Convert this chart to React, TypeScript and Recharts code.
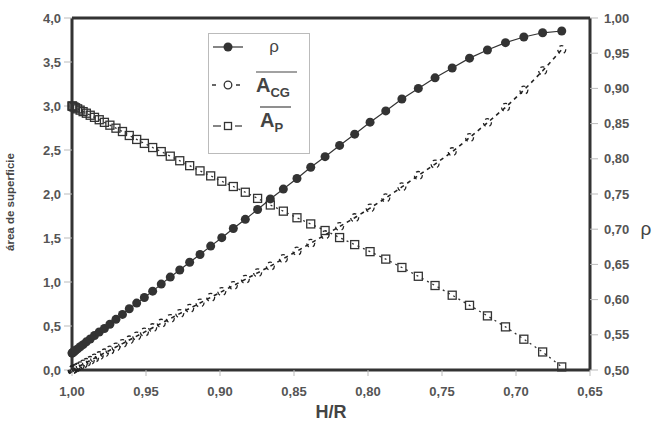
import React from 'react';
import {
  ComposedChart,
  Line,
  XAxis,
  YAxis,
  ReferenceLine,
} from 'recharts';

const hrValues = [
  1.0, 0.9998, 0.9994, 0.9986, 0.9976, 0.9962, 0.9945, 0.9925, 0.9903, 0.9877,
  0.9848, 0.9816, 0.9781, 0.9744, 0.9703, 0.9659, 0.9613, 0.9563, 0.9511, 0.9455,
  0.9397, 0.9336, 0.9272, 0.9205, 0.9135, 0.9063, 0.8988, 0.891, 0.8829, 0.8746,
  0.866, 0.8572, 0.848, 0.8387, 0.829, 0.8192, 0.809, 0.7986, 0.788, 0.7771,
  0.766, 0.7547, 0.7431, 0.7314, 0.7193, 0.7071, 0.6947, 0.682, 0.6691,
];

// ρ (right axis)
const rhoValues = [
  0.524, 0.524, 0.525, 0.526, 0.528, 0.53, 0.533, 0.536, 0.54, 0.544,
  0.549, 0.554, 0.559, 0.565, 0.572, 0.579, 0.587, 0.595, 0.603, 0.612,
  0.622, 0.632, 0.642, 0.653, 0.664, 0.676, 0.688, 0.701, 0.714, 0.728,
  0.743, 0.757, 0.772, 0.788, 0.803, 0.819, 0.835, 0.852, 0.868, 0.885,
  0.9, 0.915, 0.929, 0.943, 0.9545, 0.965, 0.973, 0.979, 0.9815,
];

// A_CG (left axis)
const acgValues = [
  0, 0.001, 0.005, 0.012, 0.021, 0.033, 0.048, 0.066, 0.085, 0.108,
  0.134, 0.162, 0.193, 0.225, 0.261, 0.3, 0.341, 0.385, 0.43, 0.48,
  0.531, 0.584, 0.641, 0.7, 0.761, 0.825, 0.891, 0.959, 1.03, 1.104,
  1.18, 1.265, 1.35, 1.44, 1.535, 1.63, 1.73, 1.84, 1.955, 2.08,
  2.21, 2.34, 2.48, 2.64, 2.81, 2.985, 3.18, 3.4, 3.64,
];

// A_P (left axis)
const apValues = [
  3.0, 2.999, 2.995, 2.988, 2.98, 2.968, 2.953, 2.936, 2.918, 2.895,
  2.871, 2.844, 2.814, 2.782, 2.748, 2.71, 2.665, 2.62, 2.575, 2.528,
  2.482, 2.43, 2.378, 2.322, 2.263, 2.206, 2.145, 2.085, 2.02, 1.95,
  1.875, 1.805, 1.73, 1.66, 1.585, 1.505, 1.425, 1.345, 1.26, 1.165,
  1.065, 0.96, 0.85, 0.735, 0.615, 0.49, 0.35, 0.205, 0.035,
];

const xTicks = [1.0, 0.95, 0.9, 0.85, 0.8, 0.75, 0.7, 0.65];
const leftTicks = [0, 0.5, 1, 1.5, 2, 2.5, 3, 3.5, 4];
const rightTicks = [0.5, 0.55, 0.6, 0.65, 0.7, 0.75, 0.8, 0.85, 0.9, 0.95, 1.0];

const data = hrValues.map((hr, i) => ({
  hr,
  rho: rhoValues[i],
  acg: acgValues[i],
  ap: apValues[i],
}));

const FONT = '"Liberation Sans", Arial, sans-serif';
const DARK = '#333';
const TICK_TXT = { fontSize: 13, fontWeight: 700, fill: '#555', fontFamily: FONT };

const comma = (d: number) => (v: number) => v.toFixed(d).replace('.', ',');

const SquareDot = (props: any) => {
  const { cx, cy } = props;
  if (cx == null || cy == null) return null;
  return <rect x={cx - 4} y={cy - 4} width={8} height={8} fill="none" stroke="#333" strokeWidth={1.3} />;
};

// legend drawn as an overlay so it doesn't take room from the plot
const LegendBox = () => (
  <svg width={102} height={121} style={{ display: 'block' }}>
    <rect x={0.5} y={0.5} width={101} height={120} fill="#fff" stroke="#bbb" strokeWidth={1} />
    {/* ρ */}
    <line x1={5} x2={35} y1={14} y2={14} stroke={DARK} strokeWidth={1.2} />
    <circle cx={20} cy={14} r={4.5} fill={DARK} />
    <text x={66} y={19} fontSize={17} fill="#444" fontFamily={FONT} textAnchor="middle">ρ</text>
    {/* A_CG */}
    <line x1={4} x2={8} y1={52} y2={52} stroke={DARK} strokeWidth={1.5} />
    <line x1={28} x2={32} y1={52} y2={52} stroke={DARK} strokeWidth={1.5} />
    <circle cx={20} cy={52} r={3.8} fill="none" stroke="#333" strokeWidth={1.3} />
    <line x1={48} x2={89} y1={39} y2={39} stroke="#444" strokeWidth={1.2} />
    <text x={48} y={59} fill="#444" fontFamily={FONT} fontWeight={700}>
      <tspan fontSize={20}>A</tspan>
      <tspan fontSize={13} dy={5}>CG</tspan>
    </text>
    {/* A_P */}
    <line x1={5} x2={13} y1={93} y2={93} stroke={DARK} strokeWidth={1.2} />
    <line x1={27} x2={34} y1={93} y2={93} stroke={DARK} strokeWidth={1.2} />
    <rect x={16.5} y={89.5} width={7} height={7} fill="none" stroke="#333" strokeWidth={1.3} />
    <line x1={52} x2={83} y1={74} y2={74} stroke="#444" strokeWidth={1.2} />
    <text x={52} y={94} fill="#444" fontFamily={FONT} fontWeight={700}>
      <tspan fontSize={20}>A</tspan>
      <tspan fontSize={13} dy={5}>P</tspan>
    </text>
  </svg>
);

export default function App() {
  return (
    <div style={{ position: 'absolute', left: 0, top: 0, width: 656, height: 426, background: '#fff' }}>
      <ComposedChart
        width={656}
        height={426}
        data={data}
        margin={{ top: 18, right: 0, bottom: 6, left: 0 }}
      >
        <XAxis
          dataKey="hr"
          type="number"
          domain={[0.65, 1]}
          reversed
          ticks={xTicks}
          tickFormatter={comma(2)}
          interval={0}
          height={50}
          axisLine={{ stroke: DARK, strokeWidth: 3 }}
          tickLine={{ stroke: '#bbb' }}
          tickSize={6}
          tickMargin={11}
          tick={TICK_TXT}
          label={{
            value: 'H/R',
            position: 'insideBottom',
            offset: 2,
            style: { fontSize: 18, fontWeight: 700, fill: '#444', fontFamily: FONT },
          }}
        />
        <YAxis
          yAxisId="left"
          domain={[0, 4]}
          ticks={leftTicks}
          tickFormatter={comma(1)}
          interval={0}
          width={72}
          axisLine={{ stroke: DARK, strokeWidth: 3 }}
          tickLine={{ stroke: '#bbb' }}
          tickSize={8}
          tickMargin={3}
          tick={TICK_TXT}
          label={{
            value: 'área de superficie',
            angle: -90,
            position: 'insideLeft',
            offset: 10,
            dy: 8,
            style: { fontSize: 11.5, fontWeight: 700, fill: '#444', fontFamily: FONT, textAnchor: 'middle' },
          }}
        />
        <YAxis
          yAxisId="right"
          orientation="right"
          domain={[0.5, 1]}
          ticks={rightTicks}
          tickFormatter={comma(2)}
          interval={0}
          width={66}
          axisLine={{ stroke: DARK, strokeWidth: 3 }}
          tickLine={{ stroke: '#bbb' }}
          tickSize={8}
          tickMargin={6}
          tick={TICK_TXT}
          label={{
            value: 'ρ',
            position: 'insideRight',
            offset: 10,
            dy: 34,
            style: { fontSize: 19, fill: '#444', fontFamily: FONT, textAnchor: 'middle' },
          }}
        />
        <ReferenceLine yAxisId="left" y={4} stroke={DARK} strokeWidth={3} />
        <Line
          yAxisId="left"
          dataKey="ap"
          stroke="#333"
          strokeWidth={1.3}
          strokeDasharray="2 4"
          dot={<SquareDot />}
          activeDot={false}
          isAnimationActive={false}
        />
        <Line
          yAxisId="left"
          dataKey="acg"
          stroke="#222"
          strokeWidth={1.6}
          strokeDasharray="4 4"
          dot={{ r: 4, fill: 'none', stroke: '#222', strokeWidth: 1.3 }}
          activeDot={false}
          isAnimationActive={false}
        />
        <Line
          yAxisId="right"
          dataKey="rho"
          stroke="#333"
          strokeWidth={1.2}
          dot={{ r: 4.5, fill: DARK, stroke: DARK, strokeWidth: 0 }}
          activeDot={false}
          isAnimationActive={false}
        />
      </ComposedChart>
      <div style={{ position: 'absolute', left: 208, top: 33 }}>
        <LegendBox />
      </div>
    </div>
  );
}
